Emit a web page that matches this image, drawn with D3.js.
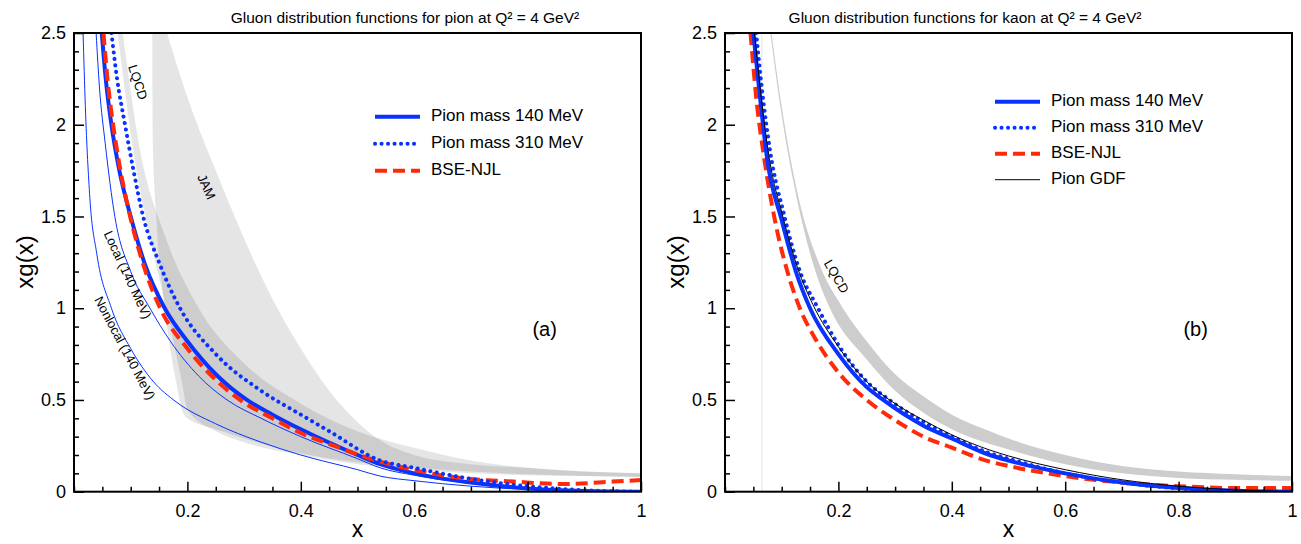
<!DOCTYPE html>
<html>
<head>
<meta charset="utf-8">
<script src="https://cdn.jsdelivr.net/npm/d3@7"></script>
<style>
  body { margin: 0; background: #fff; }
  text { font-family: "Liberation Sans", Arial, Helvetica, sans-serif; }
</style>
</head>
<body>
<svg id="chart" width="1301" height="544"></svg>
<script>
// Tick labels.
var xTicks = [0.2, 0.4, 0.6, 0.8, 1];
var yTicks = [0, 0.5, 1, 1.5, 2, 2.5];

// Pion panel (a), [x, xg(x)].
var pion140 = [[0.049,2.5],[0.056,2.25],[0.066,2.0],[0.08,1.75],[0.1,1.5],[0.125,1.24],[0.16,1.0],[0.2,0.82],[0.25,0.64],[0.305,0.5],[0.35,0.42],[0.4,0.34],[0.5,0.2],[0.54,0.15],[0.6,0.1],[0.7,0.05],[0.8,0.018],[0.9,0.004],[1,0]];
var pion310 = [[0.066,2.5],[0.076,2.25],[0.09,2.0],[0.105,1.75],[0.122,1.5],[0.15,1.25],[0.187,1.0],[0.25,0.75],[0.33,0.55],[0.4,0.42],[0.45,0.33],[0.54,0.17],[0.6,0.13],[0.7,0.07],[0.8,0.03],[0.9,0.008],[1,0]];
var pionNJL = [[0.052,2.5],[0.059,2.25],[0.069,2.0],[0.082,1.75],[0.099,1.5],[0.122,1.24],[0.152,1.0],[0.2,0.78],[0.25,0.61],[0.293,0.5],[0.35,0.4],[0.4,0.32],[0.45,0.26],[0.54,0.164],[0.6,0.118],[0.686,0.073],[0.775,0.055],[0.862,0.042],[0.95,0.055],[1,0.064]];
var pionLocal = [[0.039,2.5],[0.045,2.2],[0.055,1.9],[0.072,1.5],[0.1,1.2],[0.134,1.0],[0.17,0.82],[0.22,0.63],[0.27,0.5],[0.33,0.4],[0.4,0.3],[0.5,0.18],[0.54,0.13],[0.6,0.09],[0.7,0.045],[0.8,0.018],[0.9,0.004],[1,0]];
var pionNonlocal = [[0.016,2.5],[0.02,2.1],[0.028,1.6],[0.04,1.3],[0.066,1.0],[0.1,0.78],[0.14,0.6],[0.18,0.49],[0.25,0.37],[0.33,0.27],[0.4,0.2],[0.5,0.12],[0.54,0.085],[0.6,0.06],[0.7,0.03],[0.8,0.012],[0.9,0.003],[1,0]];
var pionLqcdUp = [[0.086,2.5],[0.116,1.87],[0.16,1.4],[0.22,1.0],[0.3,0.7],[0.4,0.48],[0.5,0.33],[0.6,0.24],[0.7,0.17],[0.8,0.13],[0.9,0.11],[1,0.1]];
var pionLqcdLow = [[0.077,2.5],[0.104,1.87],[0.14,1.3],[0.17,0.9],[0.19,0.6],[0.2,0.45],[0.25,0.33],[0.3,0.27],[0.4,0.2],[0.5,0.15],[0.6,0.12],[0.7,0.1],[0.8,0.09],[0.9,0.085],[1,0.08]];
var pionJamUp = [[0.164,2.5],[0.2,2.15],[0.25,1.75],[0.3,1.38],[0.35,1.05],[0.4,0.78],[0.45,0.55],[0.5,0.38],[0.54,0.28],[0.6,0.2],[0.7,0.15],[0.8,0.13],[0.9,0.11],[1,0.1]];
var pionJamLow = [[0.138,2.5],[0.139,1.9],[0.145,1.5],[0.16,1.0],[0.18,0.6],[0.19,0.45],[0.2,0.4],[0.25,0.34],[0.3,0.29],[0.4,0.21],[0.5,0.16],[0.6,0.13],[0.7,0.11],[0.8,0.095],[0.9,0.085],[1,0.08]];

// Kaon panel (b).
var kaon140 = [[0.05,2.5],[0.06,2.2],[0.075,1.8],[0.1,1.48],[0.125,1.2],[0.15,1.0],[0.2,0.75],[0.25,0.57],[0.279,0.5],[0.35,0.36],[0.4,0.29],[0.467,0.2],[0.5,0.17],[0.6,0.1],[0.7,0.05],[0.8,0.02],[0.9,0.005],[1,0]];
var kaon310 = [[0.055,2.5],[0.065,2.2],[0.08,1.85],[0.105,1.5],[0.13,1.22],[0.164,1.0],[0.2,0.8],[0.25,0.6],[0.29,0.5],[0.35,0.38],[0.4,0.3],[0.467,0.21],[0.5,0.18],[0.6,0.1],[0.7,0.05],[0.8,0.018],[0.9,0.004],[1,0]];
var kaonNJL = [[0.045,2.5],[0.055,2.15],[0.07,1.8],[0.088,1.48],[0.11,1.2],[0.132,1.0],[0.16,0.83],[0.2,0.65],[0.25,0.5],[0.3,0.39],[0.35,0.3],[0.4,0.24],[0.467,0.164],[0.5,0.14],[0.6,0.085],[0.7,0.05],[0.8,0.03],[0.9,0.02],[1,0.02]];
var kaonPionGdf = [[0.052,2.5],[0.062,2.2],[0.078,1.82],[0.102,1.5],[0.128,1.22],[0.155,1.02],[0.2,0.79],[0.25,0.6],[0.3,0.48],[0.35,0.39],[0.4,0.31],[0.467,0.227],[0.5,0.195],[0.6,0.12],[0.7,0.065],[0.8,0.03],[0.9,0.01],[1,0]];
var kaonLqcdUp = [[0.082,2.5],[0.1,2.1],[0.13,1.6],[0.165,1.25],[0.208,1.0],[0.25,0.82],[0.3,0.64],[0.35,0.52],[0.4,0.42],[0.467,0.33],[0.5,0.29],[0.6,0.2],[0.7,0.14],[0.8,0.11],[0.9,0.095],[1,0.085]];
var kaonLqcdLow = [[0.08,2.5],[0.1,2.05],[0.13,1.55],[0.165,1.15],[0.185,1.0],[0.25,0.72],[0.3,0.55],[0.35,0.43],[0.4,0.34],[0.467,0.26],[0.5,0.23],[0.6,0.15],[0.7,0.1],[0.8,0.075],[0.9,0.065],[1,0.06]];
var kaonCutX = [0.065];

var svg = d3.select('#chart');
var blue = '#0a32ff', red = '#ff2a0a';

var panels = [
  {
    left: 74, title: 'Gluon distribution functions for pion at Q² = 4 GeV²', titleX: 405, tag: '(a)',
    // both bands are see-through, so where they overlap it turns darker
    bands: [
      { up: pionJamUp, low: pionJamLow, fill: '#000', opacity: 0.1 },
      { up: pionLqcdUp, low: pionLqcdLow, fill: '#000', opacity: 0.1 }
    ],
    lines: [
      { data: pionNonlocal, color: blue, width: 1 },
      { data: pionLocal, color: blue, width: 1 },
      { data: pion140, color: blue, width: 4 },
      { data: pionNJL, color: red, width: 4, dash: '12 6' },
      { data: pion310, color: blue, width: 4, dash: '0.1 6.4', cap: 'round' }
    ],
    notes: [
      { text: 'LQCD', x: 0.111, y: 2.23, rot: 72 },
      { text: 'JAM', x: 0.232, y: 1.66, rot: 66 },
      { text: 'Local (140 MeV)', x: 0.093, y: 1.18, rot: 65 },
      { text: 'Nonlocal (140 MeV)', x: 0.088, y: 0.78, rot: 62 }
    ],
    legend: { x: 375, y: 116.7, gap: 27, items: [
      { label: 'Pion mass 140 MeV', color: blue, width: 4 },
      { label: 'Pion mass 310 MeV', color: blue, width: 4, dash: '0.1 6.4', cap: 'round' },
      { label: 'BSE-NJL', color: red, width: 4, dash: '12 6' }
    ] }
  },
  {
    left: 725, title: 'Gluon distribution functions for kaon at Q² = 4 GeV²', titleX: 965, tag: '(b)',
    bands: [
      { up: kaonLqcdUp, low: kaonLqcdLow, fill: '#cdcdcd', opacity: 1 }
    ],
    cut: kaonCutX,
    lines: [
      { data: kaonNJL, color: red, width: 4, dash: '12 6' },
      { data: kaon140, color: blue, width: 4 },
      { data: kaon310, color: blue, width: 4, dash: '0.1 6.4', cap: 'round' },
      { data: kaonPionGdf, color: '#000', width: 1 }
    ],
    notes: [
      { text: 'LQCD', x: 0.195, y: 1.17, rot: 60 }
    ],
    legend: { x: 995, y: 101.7, gap: 26, items: [
      { label: 'Pion mass 140 MeV', color: blue, width: 4 },
      { label: 'Pion mass 310 MeV', color: blue, width: 4, dash: '0.1 6.4', cap: 'round' },
      { label: 'BSE-NJL', color: red, width: 4, dash: '12 6' },
      { label: 'Pion GDF', color: '#000', width: 1 }
    ] }
  }
];

panels.forEach(function (p, i) {
  drawPanel(p, i);
});

function drawPanel(p, i) {
  var x = d3.scaleLinear().domain([0, 1]).range([p.left, p.left + 567]);
  var y = d3.scaleLinear().domain([0, 2.5]).range([491.7, 33]);

  var clipId = 'clip' + i;
  svg.append('clipPath').attr('id', clipId)
    .append('rect')
    .attr('x', x(0)).attr('y', y(2.5))
    .attr('width', x(1) - x(0)).attr('height', y(0) - y(2.5));

  var plot = svg.append('g').attr('clip-path', 'url(#' + clipId + ')');

  var line = d3.line()
    .x(function (d) { return x(d[0]); })
    .y(function (d) { return y(d[1]); })
    .curve(d3.curveMonotoneX);

  // Shaded bands.
  p.bands.forEach(function (b) {
    var top = line(b.up);
    var bottom = line(b.low.slice().reverse());
    plot.append('path')
      .attr('d', top + 'L' + bottom.slice(1) + 'Z')
      .attr('fill', b.fill)
      .attr('fill-opacity', b.opacity)
      .attr('stroke', 'none');
  });

  if (p.cut) {
    p.cut.forEach(function (c) {
      plot.append('line')
        .attr('x1', x(c)).attr('x2', x(c))
        .attr('y1', y(2.5)).attr('y2', y(0))
        .attr('stroke', '#e4e4e4')
        .attr('stroke-width', 1);
    });
  }

  // Curves.
  p.lines.forEach(function (l) {
    plot.append('path')
      .attr('d', line(l.data))
      .attr('fill', 'none')
      .attr('stroke', l.color)
      .attr('stroke-width', l.width)
      .attr('stroke-dasharray', l.dash || null)
      .attr('stroke-linecap', l.cap || 'butt');
  });

  // Band labels.
  p.notes.forEach(function (n) {
    svg.append('text')
      .attr('transform', 'translate(' + x(n.x) + ',' + y(n.y) + ') rotate(' + n.rot + ')')
      .attr('text-anchor', 'middle')
      .attr('dominant-baseline', 'middle')
      .attr('font-size', 13)
      .text(n.text);
  });

  // Axes, ticks pointing inward.
  var xMinor = x.ticks(20).filter(function (d) { return xTicks.indexOf(+d.toFixed(2)) < 0; });
  var yMinor = y.ticks(25).filter(function (d) { return yTicks.indexOf(+d.toFixed(2)) < 0; });

  var gx = svg.append('g')
    .attr('transform', 'translate(0,' + y(0) + ')')
    .call(d3.axisBottom(x).tickValues(xTicks).tickSize(-10).tickPadding(13)
      .tickFormat(function (d) { return String(d); }));
  svg.append('g')
    .attr('transform', 'translate(0,' + y(0) + ')')
    .call(d3.axisBottom(x).tickValues(xMinor).tickSize(-5).tickFormat(''))
    .call(function (g) { g.select('.domain').remove(); });

  var gy = svg.append('g')
    .attr('transform', 'translate(' + x(0) + ',0)')
    .call(d3.axisLeft(y).tickValues(yTicks).tickSize(-10).tickPadding(8)
      .tickFormat(function (d) { return String(d); }));
  svg.append('g')
    .attr('transform', 'translate(' + x(0) + ',0)')
    .call(d3.axisLeft(y).tickValues(yMinor).tickSize(-5).tickFormat(''))
    .call(function (g) { g.select('.domain').remove(); });

  [gx, gy].forEach(function (g) {
    g.select('.domain').remove();
    g.attr('font-size', 18).attr('font-family', null);
    g.selectAll('text').attr('fill', '#000');
  });
  svg.selectAll('.tick line').attr('stroke', '#000').attr('stroke-width', 1.5);

  // Frame.
  svg.append('rect')
    .attr('x', x(0)).attr('y', y(2.5))
    .attr('width', x(1) - x(0)).attr('height', y(0) - y(2.5))
    .attr('fill', 'none')
    .attr('stroke', '#000')
    .attr('stroke-width', 2);

  // Titles.
  svg.append('text')
    .attr('x', p.titleX).attr('y', 23)
    .attr('text-anchor', 'middle')
    .attr('font-size', 15.5)
    .text(p.title);

  svg.append('text')
    .attr('x', (x(0) + x(1)) / 2).attr('y', 537)
    .attr('text-anchor', 'middle')
    .attr('font-size', 23)
    .text('x');

  svg.append('text')
    .attr('transform', 'translate(' + (x(0) - 47) + ',' + 262 + ') rotate(-90)')
    .attr('text-anchor', 'middle')
    .attr('dominant-baseline', 'middle')
    .attr('font-size', 24)
    .text('xg(x)');

  svg.append('text')
    .attr('x', x(0.83)).attr('y', y(0.88))
    .attr('text-anchor', 'middle')
    .attr('dominant-baseline', 'middle')
    .attr('font-size', 20)
    .text(p.tag);

  // Legend.
  var lg = p.legend;
  lg.items.forEach(function (it, k) {
    var yy = lg.y + k * lg.gap;
    svg.append('line')
      .attr('x1', lg.x).attr('x2', lg.x + 45)
      .attr('y1', yy).attr('y2', yy)
      .attr('stroke', it.color)
      .attr('stroke-width', it.width)
      .attr('stroke-dasharray', it.dash || null)
      .attr('stroke-linecap', it.cap || 'butt');
    svg.append('text')
      .attr('x', lg.x + 56).attr('y', yy)
      .attr('dominant-baseline', 'middle')
      .attr('font-size', 17)
      .text(it.label);
  });
}
</script>
</body>
</html>
